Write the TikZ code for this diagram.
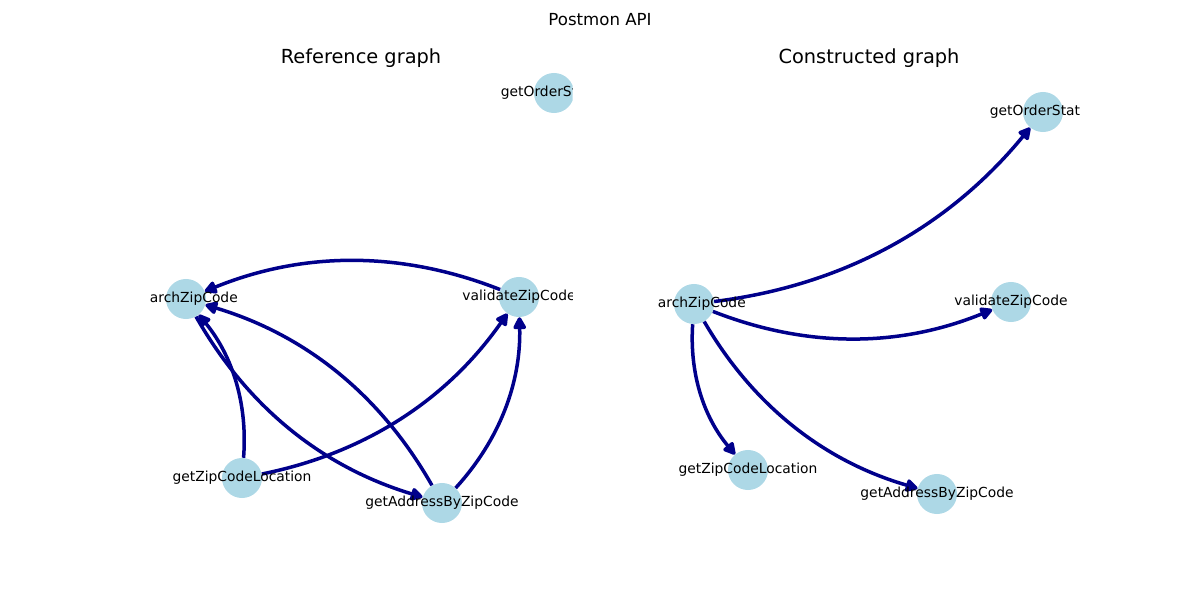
\documentclass[tikz,border=0pt]{standalone}
\usepackage{fontspec}
\setmainfont{DejaVu Sans}
\usetikzlibrary{arrows.meta,calc}
\definecolor{nodeblue}{HTML}{ADD8E6}
\definecolor{edgeblue}{HTML}{00008B}
\begin{document}
\begin{tikzpicture}[x=0.01in,y=-0.01in,
  gnode/.style={circle,fill=nodeblue,minimum size=0.4in,inner sep=0pt},
  glabel/.style={font=\fontsize{10}{12}\selectfont,inner sep=0pt},
  gedge/.style={draw=edgeblue,line width=0.035in,-{Triangle[length=0.14in,width=0.14in,round]},bend right=21.8,looseness=0.92},
  ttl/.style={font=\fontsize{14}{17}\selectfont,inner sep=0pt}]
\useasboundingbox (0,0) rectangle (1200,600);
\node[font=\fontsize{12}{14}\selectfont,inner sep=0pt] (sup) at (600,20) {Postmon API};
\node[ttl] (t1) at (361,58) {Reference graph};
\node[ttl] (t2) at (869,58) {Constructed graph};
% Reference graph
\begin{scope}
\clip (150,72) rectangle (572.7,534);
\node[gnode] (lS) at (186,299) {};
\node[gnode] (lV) at (519,297) {};
\node[gnode] (lO) at (554,93) {};
\node[gnode] (lL) at (242,478) {};
\node[gnode] (lA) at (442,503) {};
\draw[gedge] (lV) to (lS);
\draw[gedge] (lL) to (lS);
\draw[gedge] (lL) to (lV);
\draw[gedge] (lA) to (lS);
\draw[gedge] (lS) to (lA);
\draw[gedge] (lA) to (lV);
\node[glabel] (tlS) at (lS) {searchZipCode};
\node[glabel] (tlV) at (lV) {validateZipCode};
\node[glabel] (tlO) at (lO) {getOrderStatus};
\node[glabel] (tlL) at (lL) {getZipCodeLocation};
\node[glabel] (tlA) at (lA) {getAddressByZipCode};
\end{scope}
% Constructed graph
\begin{scope}
\clip (657.3,72) rectangle (1080,534);
\node[gnode] (rS) at (694,304) {};
\node[gnode] (rV) at (1011,302) {};
\node[gnode] (rO) at (1043,112) {};
\node[gnode] (rL) at (748,470) {};
\node[gnode] (rA) at (937,494) {};
\draw[gedge] (rS) to (rO);
\draw[gedge] (rS) to (rV);
\draw[gedge] (rS) to (rL);
\draw[gedge] (rS) to (rA);
\node[glabel] (trS) at (rS) {searchZipCode};
\node[glabel] (trV) at (rV) {validateZipCode};
\node[glabel] (trO) at (rO) {getOrderStatus};
\node[glabel] (trL) at (rL) {getZipCodeLocation};
\node[glabel] (trA) at (rA) {getAddressByZipCode};
\end{scope}
\end{tikzpicture}
\end{document}
